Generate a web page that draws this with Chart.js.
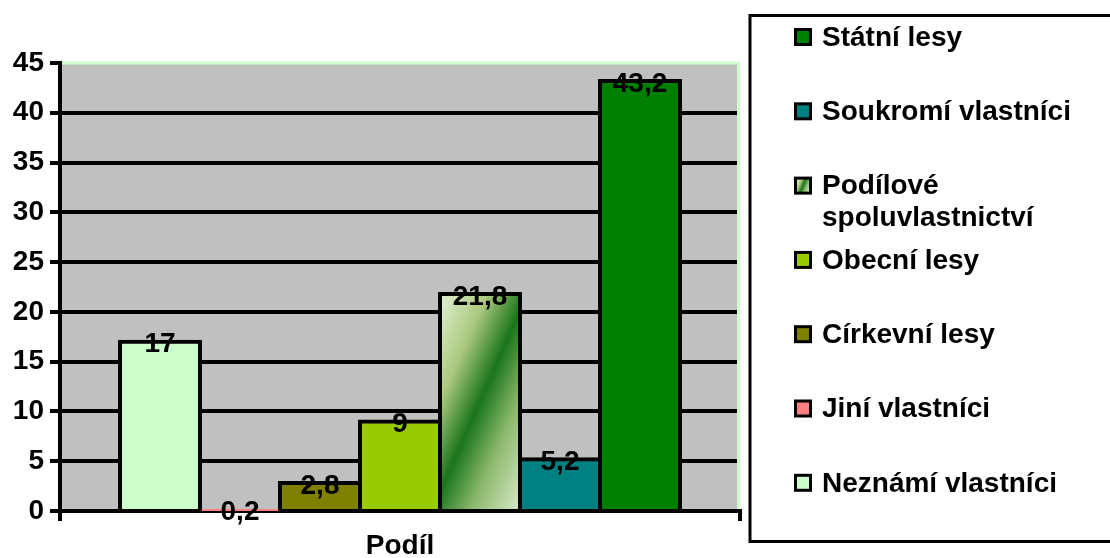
<!DOCTYPE html>
<html>
<head>
<meta charset="utf-8">
<script src="https://cdn.jsdelivr.net/npm/chart.js@4/dist/chart.umd.min.js"></script>
<style>
	body { margin: 0; background: #fff; }
</style>
</head>
<body>
<canvas id="forest-chart" width="1110" height="558"></canvas>
<script>
const categories = ['Podíl']
const seriesNames = ['Neznámí vlastníci', 'Jiní vlastníci', 'Církevní lesy', 'Obecní lesy', 'Podílové spoluvlastnictví', 'Soukromí vlastníci', 'Státní lesy']
const seriesValues = [17, 0.2, 2.8, 9, 21.8, 5.2, 43.2]
const seriesColors = ['#ccffcc', '#ff8080', '#808000', '#99cc00', 'gradient', '#008080', '#008000']
const yTicks = [0, 5, 10, 15, 20, 25, 30, 35, 40, 45]

const fontFamily = "'Liberation Sans', Arial, sans-serif"

/*
Diagonal light - dark - light fill used by the "Podílové" bar
*/
const shareGradient = (ctx, left, top, w, h) => {
	const cx = left + w / 2
	const cy = top + h / 2
	const ux = 0.915, uy = 0.403
	const r = Math.abs(w / 2 * ux) + Math.abs(h / 2 * uy)
	const g = ctx.createLinearGradient(cx - ux * r, cy - uy * r, cx + ux * r, cy + uy * r)
	g.addColorStop(0, '#e2f0d4')
	g.addColorStop(0.27, '#abc97f')
	g.addColorStop(0.5, '#1a751a')
	g.addColorStop(0.72, '#8cb86c')
	g.addColorStop(1, '#d6eac6')
	return g
}

const barFill = context => {
	const i = context.datasetIndex
	if (seriesColors[i] !== 'gradient') return seriesColors[i]
	const bar = context.chart.getDatasetMeta(i).data[context.dataIndex]
	if (!bar || bar.x === undefined || isNaN(bar.x)) return '#5a9a4a'
	return shareGradient(context.chart.ctx, bar.x - bar.width / 2, bar.y, bar.width, bar.base - bar.y)
}

const plotBackground = {
	id: 'plotBackground',
	beforeDraw(chart) {
		const {ctx, chartArea: a} = chart
		ctx.save()
		ctx.fillStyle = '#c0c0c0'
		ctx.fillRect(a.left, a.top, a.right - a.left, a.bottom - a.top)
		ctx.restore()
	},
	beforeDatasetsDraw(chart) {
		const {ctx, chartArea: a} = chart
		ctx.save()
		ctx.strokeStyle = '#ccffcc'
		ctx.lineWidth = 3
		ctx.beginPath()
		ctx.moveTo(a.left + 2, a.top)
		ctx.lineTo(a.right - 1.5, a.top)
		ctx.lineTo(a.right - 1.5, a.bottom - 2)
		ctx.stroke()
		ctx.restore()
	}
}

const valueLabels = {
	id: 'valueLabels',
	afterDatasetsDraw(chart) {
		const ctx = chart.ctx
		ctx.save()
		ctx.font = 'bold 28px ' + fontFamily
		ctx.fillStyle = '#000'
		ctx.textAlign = 'center'
		ctx.textBaseline = 'middle'
		chart.data.datasets.forEach((ds, i) => {
			chart.getDatasetMeta(i).data.forEach((bar, j) => {
				ctx.fillText(String(ds.data[j]).replace('.', ','), bar.x, bar.y + 3)
			})
		})
		ctx.restore()
	}
}

const wrapText = (ctx, text, maxWidth) => {
	const words = text.split(' ')
	const lines = []
	let line = ''
	words.forEach(word => {
		const test = line ? line + ' ' + word : word
		if (line && ctx.measureText(test).width > maxWidth) {
			lines.push(line)
			line = word
		} else {
			line = test
		}
	})
	lines.push(line)
	return lines
}

/*
Legend on the right, series listed in reverse order
*/
const sideLegend = {
	id: 'sideLegend',
	afterDraw(chart) {
		const ctx = chart.ctx
		const boxLeft = chart.chartArea.right + 10
		ctx.save()
		ctx.lineWidth = 3
		ctx.strokeStyle = '#000'
		ctx.strokeRect(boxLeft, 15.5, 420, 526)
		ctx.font = 'bold 28px ' + fontFamily
		ctx.textBaseline = 'middle'
		ctx.textAlign = 'left'
		let row = 0
		for (let i = seriesNames.length - 1; i >= 0; i--) {
			const y = 37 + row * 74.3
			const sx = boxLeft + 44
			ctx.fillStyle = '#000'
			ctx.fillRect(sx, y - 9, 18, 18)
			ctx.fillStyle = seriesColors[i] === 'gradient' ? shareGradient(ctx, sx + 3, y - 6, 12, 12) : seriesColors[i]
			ctx.fillRect(sx + 3, y - 6, 12, 12)
			ctx.fillStyle = '#000'
			wrapText(ctx, seriesNames[i], 280).forEach((line, k) => {
				ctx.fillText(line, sx + 28, y + 1 + k * 32)
			})
			row++
		}
		ctx.restore()
	}
}

const tickFont = {family: fontFamily, size: 28, weight: 'bold'}

const forestCanvasCtx = document.getElementById('forest-chart').getContext('2d')

const forestChart = new Chart(forestCanvasCtx, {
	type: 'bar',
	data: {
		labels: categories,
		datasets: seriesNames.map((name, i) => ({
			label: name,
			data: [seriesValues[i]],
			backgroundColor: barFill,
			borderColor: '#000',
			borderWidth: 4,
			inflateAmount: 2
		}))
	},
	options: {
		responsive: false,
		animation: false,
		layout: {
			padding: {top: 63, right: 370, left: 0, bottom: 0}
		},
		datasets: {
			bar: {categoryPercentage: 560 / 680, barPercentage: 1}
		},
		plugins: {
			legend: {display: false},
			tooltip: {enabled: false}
		},
		scales: {
			x: {
				grid: {drawOnChartArea: false, color: '#000', lineWidth: 4, tickLength: 10, offset: true},
				border: {color: '#000', width: 4},
				ticks: {color: '#000', font: tickFont, padding: 8},
				afterFit: scale => { scale.height = 47 }
			},
			y: {
				min: 0,
				max: 45,
				afterBuildTicks: scale => { scale.ticks = yTicks.map(v => ({value: v})) },
				grid: {
					color: ctx => (ctx.tick && ctx.tick.value === 45) ? 'rgba(0,0,0,0)' : '#000',
					tickColor: '#000',
					lineWidth: 4,
					tickLength: 10
				},
				border: {color: '#000', width: 4},
				ticks: {color: '#000', font: tickFont, padding: 6},
				afterFit: scale => { scale.width = 60 }
			}
		}
	},
	plugins: [plotBackground, valueLabels, sideLegend]
})

forestChart.update()
</script>
</body>
</html>
